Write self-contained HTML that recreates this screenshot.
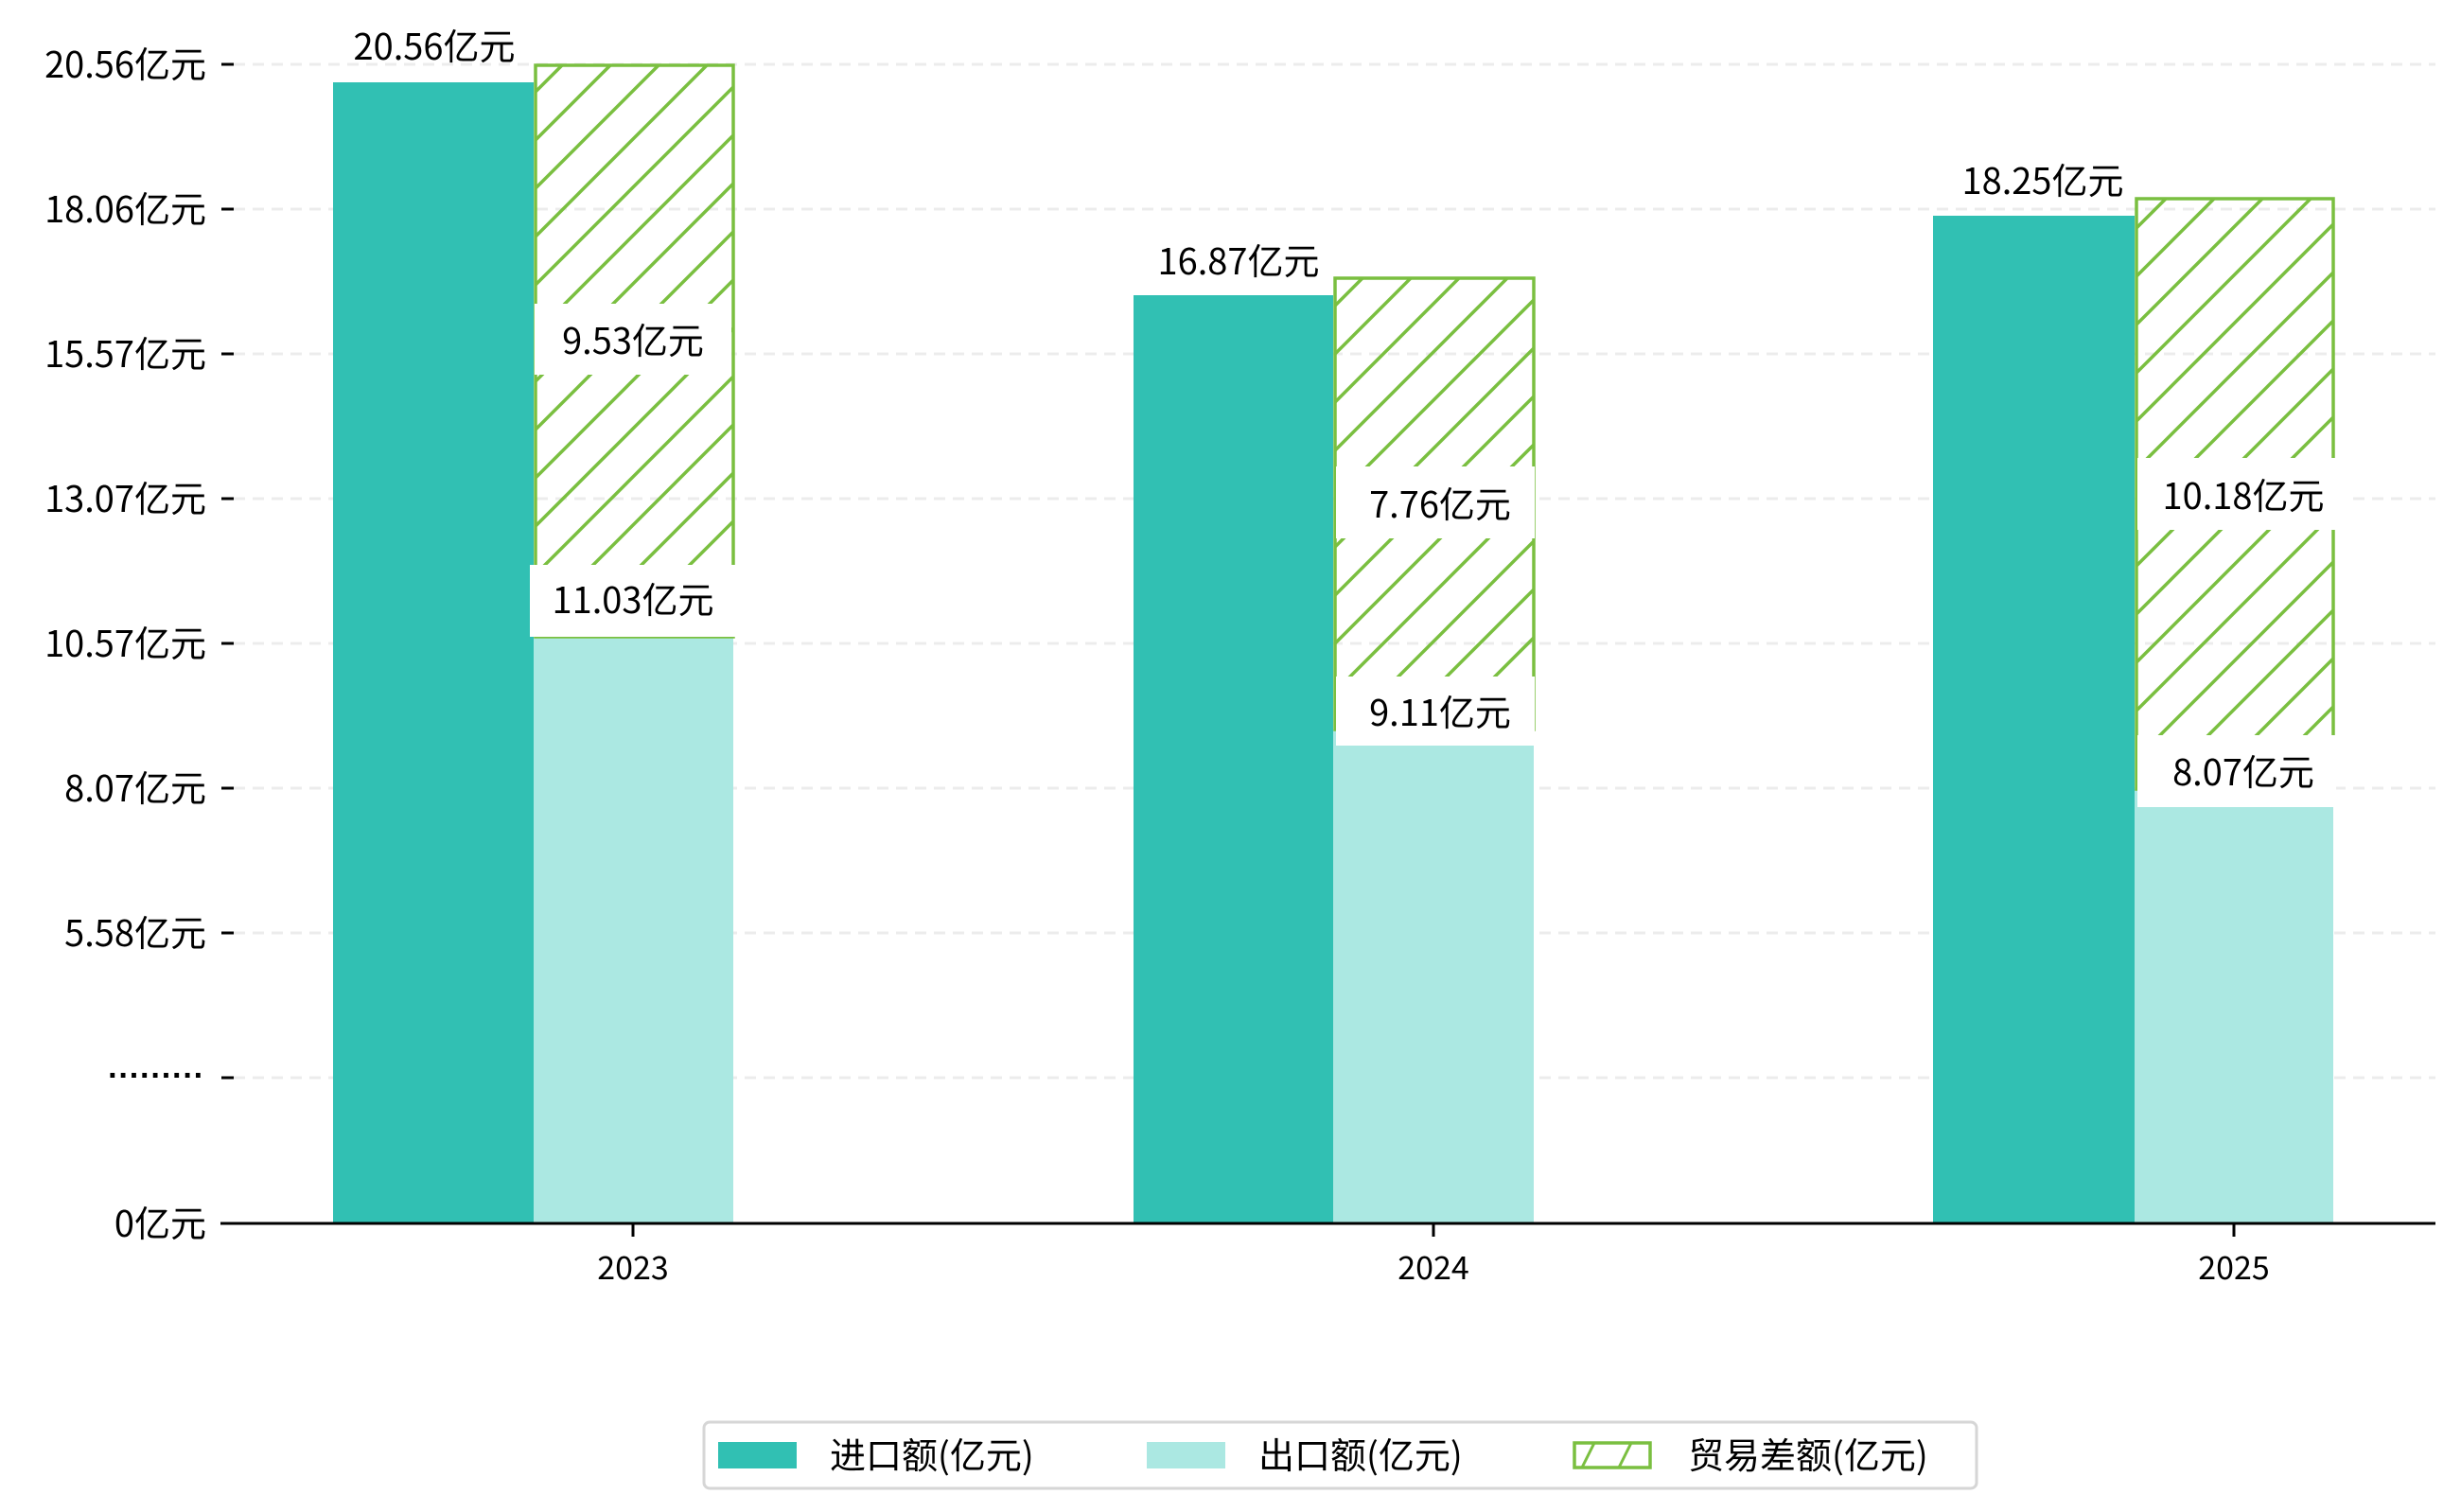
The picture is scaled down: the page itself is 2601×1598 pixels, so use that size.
<!DOCTYPE html>
<html><head><meta charset="utf-8"><style>
html,body{margin:0;padding:0;background:#fff;}
svg{display:block;}
text{font-family:"WenQuanYi Zen Hei","Noto Sans CJK SC",sans-serif;fill:#000;}
</style></head><body>
<svg width="2601" height="1598" viewBox="0 0 2601 1598" xmlns="http://www.w3.org/2000/svg">
<defs>
<pattern id="h" patternUnits="userSpaceOnUse" width="51" height="51">
<line x1="-5" y1="56" x2="56" y2="-5" stroke="#7abf40" stroke-width="3.5"/>
<line x1="-30" y1="30" x2="30" y2="-30" stroke="#7abf40" stroke-width="3.5"/>
<line x1="21" y1="81" x2="81" y2="21" stroke="#7abf40" stroke-width="3.5"/>
</pattern>
</defs>
<g stroke="#ececec" stroke-width="3" stroke-dasharray="12,8">
<line x1="247" y1="68" x2="2574" y2="68"/>
<line x1="247" y1="221" x2="2574" y2="221"/>
<line x1="247" y1="374" x2="2574" y2="374"/>
<line x1="247" y1="527" x2="2574" y2="527"/>
<line x1="247" y1="680" x2="2574" y2="680"/>
<line x1="247" y1="833" x2="2574" y2="833"/>
<line x1="247" y1="986" x2="2574" y2="986"/>
<line x1="247" y1="1139" x2="2574" y2="1139"/>
</g>
<g stroke="#000" stroke-width="3">
<line x1="234" y1="68" x2="247" y2="68"/>
<line x1="234" y1="221" x2="247" y2="221"/>
<line x1="234" y1="374" x2="247" y2="374"/>
<line x1="234" y1="527" x2="247" y2="527"/>
<line x1="234" y1="680" x2="247" y2="680"/>
<line x1="234" y1="833" x2="247" y2="833"/>
<line x1="234" y1="986" x2="247" y2="986"/>
<line x1="234" y1="1139" x2="247" y2="1139"/>
</g>
<g font-size="38" text-anchor="end">
<text x="218" y="82">20.56亿元</text>
<text x="218" y="235">18.06亿元</text>
<text x="218" y="388">15.57亿元</text>
<text x="218" y="541">13.07亿元</text>
<text x="218" y="694">10.57亿元</text>
<text x="218" y="847">8.07亿元</text>
<text x="218" y="1000">5.58亿元</text>
<text x="218" y="1307">0亿元</text>
</g>
<text x="216" y="1148" font-size="34" text-anchor="end" style="font-family:'Liberation Sans',sans-serif;font-weight:bold">·········</text>
<rect x="352" y="87" width="212" height="1206" fill="#31c0b3"/>
<rect x="564" y="673" width="211" height="620" fill="#abe8e2"/>
<rect x="566" y="69" width="209" height="604" fill="url(#h)" stroke="#7abf40" stroke-width="3.5"/>

<rect x="1198" y="312" width="211" height="981" fill="#31c0b3"/>
<rect x="1409" y="771" width="212" height="522" fill="#abe8e2"/>
<rect x="1411" y="294" width="210" height="477" fill="url(#h)" stroke="#7abf40" stroke-width="3.5"/>

<rect x="2043" y="228" width="213" height="1065" fill="#31c0b3"/>
<rect x="2256" y="834" width="210" height="459" fill="#abe8e2"/>
<rect x="2258" y="210" width="208" height="624" fill="url(#h)" stroke="#7abf40" stroke-width="3.5"/>

<g fill="#fff">
<rect x="565" y="321" width="208" height="75"/>
<rect x="560" y="597" width="219" height="76"/>
<rect x="1412" y="493" width="210" height="76"/>
<rect x="1412" y="715" width="210" height="73"/>
<rect x="2259" y="484" width="224" height="76"/>
<rect x="2259" y="777" width="210" height="76"/>
</g>
<g font-size="38" text-anchor="middle">
<text x="459" y="63">20.56亿元</text>
<text x="669" y="374">9.53亿元</text>
<text x="669" y="648">11.03亿元</text>
<text x="1309" y="290">16.87亿元</text>
<text x="1522" y="547">7.76亿元</text>
<text x="1522" y="767">9.11亿元</text>
<text x="2159" y="205">18.25亿元</text>
<text x="2371" y="538">10.18亿元</text>
<text x="2371" y="830">8.07亿元</text>
</g>
<line x1="233" y1="1293" x2="2574" y2="1293" stroke="#000" stroke-width="3"/>
<g stroke="#000" stroke-width="3">
<line x1="669" y1="1293" x2="669" y2="1307"/>
<line x1="1515" y1="1293" x2="1515" y2="1307"/>
<line x1="2361" y1="1293" x2="2361" y2="1307"/>
</g>
<g font-size="34" text-anchor="middle" style="font-family:'Liberation Sans',sans-serif">
<text x="669" y="1352">2023</text>
<text x="1515" y="1352">2024</text>
<text x="2361" y="1352">2025</text>
</g>
<rect x="744" y="1503" width="1345" height="70" rx="6" fill="#fff" stroke="#d6d6d6" stroke-width="3"/>
<rect x="759" y="1524" width="83" height="28" fill="#31c0b3"/>
<rect x="1212" y="1524" width="83" height="28" fill="#abe8e2"/>
<rect x="1664" y="1525" width="80" height="26" fill="#fff" stroke="#7abf40" stroke-width="3.5"/>
<line x1="1672" y1="1551" x2="1685" y2="1525" stroke="#7abf40" stroke-width="3"/>
<line x1="1711" y1="1551" x2="1724" y2="1525" stroke="#7abf40" stroke-width="3"/>
<g font-size="38">
<text x="877" y="1552">进口额(亿元)</text>
<text x="1330" y="1552">出口额(亿元)</text>
<text x="1784" y="1552">贸易差额(亿元)</text>
</g>
</svg>
</body></html>
